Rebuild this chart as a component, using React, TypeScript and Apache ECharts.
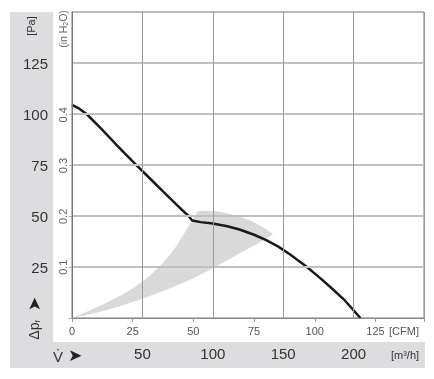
import React, { useEffect, useRef } from "react";
import * as echarts from "echarts";

// Tick labels
const cfmTicks = [0, 25, 50, 75, 100, 125];
const m3hTicks = [50, 100, 150, 200];
const paTicks = [25, 50, 75, 100, 125];
const inH2OTicks = [0.1, 0.2, 0.3, 0.4];

// Fan curve (CFM, Pa)
const curveCfm = [0, 3, 6, 12, 20, 26, 32, 38, 44, 48, 49.5, 53, 58, 64, 69, 75, 80, 85, 90, 96.8, 102, 106.3, 112.4, 118.8];
const curvePa = [104.5, 102.6, 100, 92.8, 82.8, 75.5, 68.5, 61.5, 54.5, 50, 47.8, 47, 46.3, 45, 43.4, 40.8, 38.2, 35, 31, 25, 19.8, 15.3, 8.6, 0];

// Operating envelope (CFM, Pa), closed outline
const envelopeCfm = [0, 7, 14, 20, 25, 29, 33, 36.5, 40, 43, 46, 48.5, 50.5, 52, 58, 63.7, 69, 74.7, 79, 82.9, 75, 68, 58.2, 50, 40, 28.7, 18, 11.5, 0];
const envelopePa = [0, 3.6, 7.4, 11, 14.5, 17.8, 21.8, 25.8, 30.5, 35.3, 41, 46, 50, 52.5, 52.6, 51.5, 49.8, 47.2, 44.3, 41, 35.6, 31, 24.4, 19.5, 14.3, 9.3, 5.2, 3, 0];

const FONT = '"Liberation Sans", Arial, Helvetica, sans-serif';
const PA_PER_INH2O = 249.089;

export default function App() {
  const ref = useRef<HTMLDivElement>(null);
  useEffect(() => {
    if (!ref.current) return;
    const chart = echarts.init(ref.current, undefined, { renderer: "svg" });
    const H = 379;
    const gridRect = { left: 72, right: 10, top: 12, bottom: 61 };
    const plotH = H - gridRect.top - gridRect.bottom;
    const paMax = 150;
    const inMax = 0.4;
    const inTop = H - gridRect.bottom - ((inMax * PA_PER_INH2O) / paMax) * plotH;
    const option: any = {
      animation: false,
      textStyle: { fontFamily: FONT },
      grid: [
        { ...gridRect, show: true, borderColor: "#777", borderWidth: 1, backgroundColor: "transparent" },
        { ...gridRect, show: false },
        { left: 72, right: 10, top: inTop, bottom: 61, show: false },
      ],
      xAxis: [
        {
          type: "value", gridIndex: 0, position: "bottom", min: 0, max: 145, interval: 25, z: 5,
          axisLine: { show: true, lineStyle: { color: "#888", width: 1 } },
          axisTick: { show: true, length: 4, lineStyle: { color: "#999" } },
          axisLabel: {
            fontSize: 11, color: "#555", margin: 7, fontFamily: FONT,
            formatter: (v: number) => (cfmTicks.includes(v) ? String(v) : ""),
          },
          splitLine: { show: false },
        },
        {
          type: "value", gridIndex: 1, position: "bottom", min: 0, max: 250, interval: 50, z: 5,
          axisLine: { show: false },
          axisTick: { show: false },
          axisLabel: {
            fontSize: 15, color: "#333", margin: 28, fontFamily: FONT,
            formatter: (v: number) => (m3hTicks.includes(v) ? String(v) : ""),
          },
          splitLine: { show: true, lineStyle: { color: "#999", width: 1 } },
        },
        {
          type: "value", gridIndex: 2, show: false, min: 0, max: 1,
        },
      ],
      yAxis: [
        {
          type: "value", gridIndex: 0, position: "left", min: 0, max: paMax, interval: 25, z: 5,
          axisLine: { show: true, lineStyle: { color: "#777", width: 1 } },
          axisTick: { show: false },
          axisLabel: {
            fontSize: 15, color: "#333", margin: 24, align: "right", fontFamily: FONT,
            formatter: (v: number) => (paTicks.includes(v) ? String(v) : ""),
          },
          splitLine: { show: true, showMinLine: false, showMaxLine: false, lineStyle: { color: "#c0c0c0", width: 2 } },
        },
        {
          type: "value", gridIndex: 1, show: false, min: 0, max: 1,
        },
        {
          type: "value", gridIndex: 2, position: "left", min: 0, max: inMax, interval: 0.1, z: 5,
          axisLine: { show: false },
          axisTick: { show: true, length: 3, lineStyle: { color: "#aaa" } },
          axisLabel: {
            fontSize: 11, color: "#666", margin: 4, rotate: 90, fontFamily: FONT,
            formatter: (v: number) => {
              const r = Math.round(v * 10) / 10;
              return inH2OTicks.includes(r) ? r.toFixed(1) : "";
            },
          },
          splitLine: { show: false },
        },
      ],
      graphic: [
        { type: "rect", z: 0, shape: { x: 10, y: 12, width: 43, height: 356 }, style: { fill: "#dddddf" } },
        { type: "rect", z: 0, shape: { x: 10, y: 342, width: 415, height: 26 }, style: { fill: "#dddddf" } },
        { type: "text", z: 10, x: 31, y: 26, rotation: Math.PI / 2,
          style: { text: "[Pa]", fontSize: 11, fill: "#333", align: "center", verticalAlign: "middle", fontFamily: FONT } },
        { type: "text", z: 10, x: 63, y: 29, rotation: Math.PI / 2,
          style: { text: "(in H{sub|2}O)", fontSize: 10.5, fill: "#666", align: "center", verticalAlign: "middle", fontFamily: FONT,
            rich: { sub: { fontSize: 7, fill: "#666", verticalAlign: "bottom", fontFamily: FONT } } } },
        { type: "text", z: 10, x: 34, y: 330, rotation: Math.PI / 2,
          style: { text: "Δp{sub|f}", fontSize: 14, fill: "#333", align: "center", verticalAlign: "middle", fontFamily: FONT,
            rich: { sub: { fontSize: 8, fill: "#333", verticalAlign: "bottom", fontFamily: FONT } } } },
        { type: "text", z: 10, x: 34, y: 304, rotation: Math.PI / 2,
          style: { text: "➤", fontSize: 17, fill: "#222", align: "center", verticalAlign: "middle", fontFamily: "DejaVu Sans" } },
        { type: "text", z: 10, x: 58, y: 356,
          style: { text: "V̇", fontSize: 15, fill: "#333", align: "center", verticalAlign: "middle", fontFamily: FONT } },
        { type: "text", z: 10, x: 75, y: 355,
          style: { text: "➤", fontSize: 17, fill: "#222", align: "center", verticalAlign: "middle", fontFamily: "DejaVu Sans" } },
        { type: "text", z: 10, x: 405, y: 355,
          style: { text: "[m³/h]", fontSize: 11, fill: "#333", align: "center", verticalAlign: "middle", fontFamily: FONT } },
        { type: "text", z: 10, x: 404, y: 331,
          style: { text: "[CFM]", fontSize: 11, fill: "#555", align: "center", verticalAlign: "middle", fontFamily: FONT } },
      ],
      series: [
        {
          type: "custom", xAxisIndex: 0, yAxisIndex: 0, z: 1, silent: true,
          data: [[0, 0]],
          renderItem: (_params: any, api: any) => {
            const pts = envelopeCfm.map((c, i) => api.coord([c, envelopePa[i]]));
            return { type: "polygon", shape: { points: pts }, style: { fill: "#d9d9da", stroke: "none" } };
          },
        },
        {
          type: "line", xAxisIndex: 0, yAxisIndex: 0, z: 3, showSymbol: false, smooth: false,
          data: curveCfm.map((c, i) => [c, curvePa[i]]),
          lineStyle: { color: "#1a1a1a", width: 2.5, join: "round" },
        },
      ],
    };
    chart.setOption(option);
    return () => chart.dispose();
  }, []);
  return <div ref={ref} style={{ position: "fixed", left: 0, top: 0, width: 434, height: 379 }} />;
}
